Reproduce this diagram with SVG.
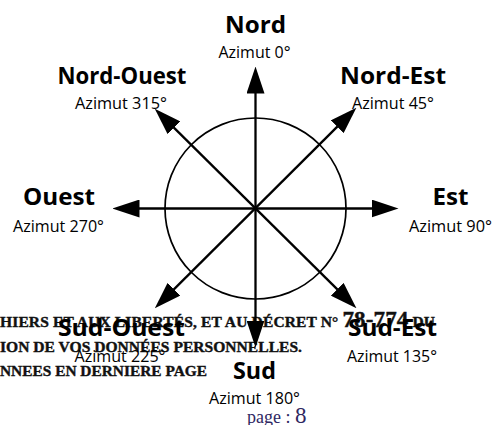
<svg xmlns="http://www.w3.org/2000/svg" width="493" height="425" viewBox="0 0 493 425">
<style>
.bg{fill:#ffffff}
.ov{font-family:"Liberation Serif","Times New Roman",serif;font-weight:bold;font-size:15.5px;fill:#111111;stroke:#111111;stroke-width:0.4}
.pg{font-family:"Liberation Serif","Times New Roman",serif;fill:#2f2862}
.dir{font-family:"Open Sans","Noto Sans",sans-serif;font-weight:bold;font-size:24px;fill:#000;text-anchor:middle}
.az{font-family:"Open Sans","Noto Sans",sans-serif;font-size:16px;fill:#000;text-anchor:middle}
.ax{stroke:#000;stroke-width:2.3;fill:none;marker-start:url(#ah);marker-end:url(#ah)}
.ring{stroke:#000;stroke-width:1.7;fill:none}
</style>
<defs>
<marker id="ah" markerUnits="userSpaceOnUse" markerWidth="27" markerHeight="18" viewBox="0 0 27 18" refX="0.5" refY="9" orient="auto-start-reverse">
<path d="M0,0 L27,9 L0,18 Z" fill="#000"/>
</marker>
</defs>
<rect class="bg" x="0" y="0" width="493" height="425"/>
<g id="overlay-text">
<text class="ov" x="0" y="327" textLength="435" lengthAdjust="spacing">HIERS ET AUX LIBERTÉS, ET AU DÉCRET N° <tspan font-size="23px">78-774</tspan> DU</text>
<text class="ov" x="0" y="351.5" textLength="302" lengthAdjust="spacingAndGlyphs">ION DE VOS DONNÉES PERSONNELLES.</text>
<text class="ov" x="0" y="376" textLength="207" lengthAdjust="spacingAndGlyphs">NNEES EN DERNIERE PAGE</text>
</g>
<g id="ring"><circle class="ring" cx="255.5" cy="208.5" r="90.5"/></g>
<g id="connectors">
<line class="ax" x1="255.5" y1="93" x2="255.5" y2="321"/>
<line class="ax" x1="139" y1="208.5" x2="372" y2="208.5"/>
<line class="ax" x1="337.6" y1="126.4" x2="173.6" y2="289.6"/>
<line class="ax" x1="173.6" y1="127.4" x2="337.6" y2="289.6"/>
</g>
<g id="nord"><text class="dir" x="255.5" y="33" font-size="27px" textLength="61" lengthAdjust="spacingAndGlyphs">Nord</text><text class="az" x="254.5" y="58" textLength="72" lengthAdjust="spacingAndGlyphs">Azimut 0°</text></g>
<g id="nord-ouest"><text class="dir" x="122" y="84" textLength="129" lengthAdjust="spacingAndGlyphs">Nord-Ouest</text><text class="az" x="121" y="109" textLength="92" lengthAdjust="spacingAndGlyphs">Azimut 315°</text></g>
<g id="nord-est"><text class="dir" x="393" y="84" textLength="106" lengthAdjust="spacingAndGlyphs">Nord-Est</text><text class="az" x="393" y="109" textLength="82" lengthAdjust="spacingAndGlyphs">Azimut 45°</text></g>
<g id="ouest"><text class="dir" x="59" y="205" textLength="72" lengthAdjust="spacingAndGlyphs">Ouest</text><text class="az" x="58.5" y="232" textLength="91" lengthAdjust="spacingAndGlyphs">Azimut 270°</text></g>
<g id="est"><text class="dir" x="450.5" y="205" textLength="36" lengthAdjust="spacingAndGlyphs">Est</text><text class="az" x="450.5" y="232" textLength="83" lengthAdjust="spacingAndGlyphs">Azimut 90°</text></g>
<g id="sud-ouest"><text class="dir" x="121.5" y="336" textLength="127" lengthAdjust="spacingAndGlyphs">Sud-Ouest</text><text class="az" x="120" y="362" textLength="91" lengthAdjust="spacingAndGlyphs">Azimut 225°</text></g>
<g id="sud-est"><text class="dir" x="392.5" y="336" textLength="89" lengthAdjust="spacingAndGlyphs">Sud-Est</text><text class="az" x="392" y="362" textLength="90" lengthAdjust="spacingAndGlyphs">Azimut 135°</text></g>
<g id="sud"><text class="dir" x="254.5" y="379" textLength="43" lengthAdjust="spacingAndGlyphs">Sud</text><text class="az" x="254.5" y="404" textLength="91" lengthAdjust="spacingAndGlyphs">Azimut 180°</text></g>
<g id="page"><text class="pg" x="247" y="423" font-size="18px">page : <tspan font-size="23px">8</tspan></text></g>
</svg>
